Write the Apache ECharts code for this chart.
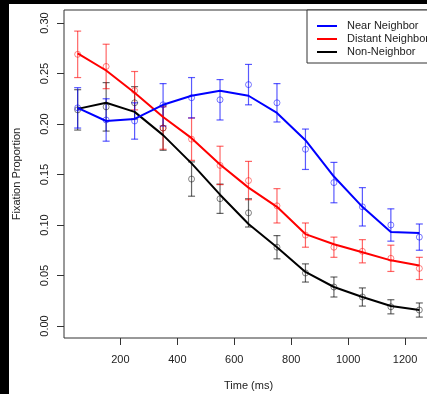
<!DOCTYPE html>
<html><head><meta charset="utf-8">
<script src="https://cdn.jsdelivr.net/npm/echarts@6/dist/echarts.min.js"></script>
<style>html,body{margin:0;padding:0;background:#fff}#c{width:427px;height:394px}</style>
</head><body><div id="c"></div>
<script>
// ---- data ----
const times = [50, 150, 250, 350, 450, 550, 650, 750, 850, 950, 1050, 1150, 1250];
const seriesNames = ['Near Neighbor', 'Distant Neighbor', 'Non-Neighbor'];
const xTicks = [200, 400, 600, 800, 1000, 1200];
const yTicks = [0, 0.05, 0.10, 0.15, 0.20, 0.25, 0.30];

const nearMean = [0.216, 0.204, 0.203, 0.219, 0.226, 0.224, 0.239, 0.221, 0.175, 0.142, 0.118, 0.100, 0.088];
const nearSE   = [0.020, 0.021, 0.018, 0.021, 0.020, 0.020, 0.020, 0.019, 0.020, 0.020, 0.019, 0.016, 0.013];
const nearFit  = [0.216, 0.203, 0.205, 0.219, 0.228, 0.233, 0.228, 0.211, 0.184, 0.148, 0.118, 0.093, 0.092];

const distMean = [0.269, 0.257, 0.233, 0.196, 0.185, 0.159, 0.144, 0.119, 0.090, 0.078, 0.074, 0.067, 0.057];
const distSE   = [0.023, 0.022, 0.019, 0.021, 0.021, 0.019, 0.019, 0.017, 0.012, 0.010, 0.0115, 0.013, 0.011];
const distFit  = [0.270, 0.253, 0.231, 0.207, 0.186, 0.160, 0.137, 0.118, 0.091, 0.081, 0.073, 0.065, 0.060];

const nonMean = [0.214, 0.217, 0.221, 0.196, 0.1455, 0.126, 0.112, 0.078, 0.0525, 0.0386, 0.0287, 0.019, 0.0158];
const nonSE   = [0.020, 0.024, 0.016, 0.022, 0.017, 0.0145, 0.014, 0.0115, 0.009, 0.0099, 0.009, 0.007, 0.007];
const nonFit  = [0.215, 0.221, 0.212, 0.189, 0.161, 0.130, 0.101, 0.078, 0.0535, 0.0386, 0.0287, 0.0198, 0.0158];

// ---- chart ----
const FONT = "'Liberation Sans', Arial, sans-serif";
const TXT = '#222';
const groups = [
  {name: seriesNames[0], mean: nearMean, se: nearSE, fit: nearFit, line: '#0000ff', faint: 'rgba(0,0,255,0.65)'},
  {name: seriesNames[1], mean: distMean, se: distSE, fit: distFit, line: '#ff0000', faint: 'rgba(255,0,0,0.6)'},
  {name: seriesNames[2], mean: nonMean,  se: nonSE,  fit: nonFit,  line: '#000000', faint: 'rgba(0,0,0,0.6)'}
];

const series = [];
groups.slice().reverse().forEach(g => {
  series.push({
    type: 'custom',
    silent: true,
    z: 2,
    data: times.map((t, i) => [t, g.mean[i] - g.se[i], g.mean[i] + g.se[i]]),
    encode: {x: 0, y: [1, 2]},
    renderItem: function (params, api) {
      const x = api.value(0);
      const lo = api.coord([x, api.value(1)]);
      const hi = api.coord([x, api.value(2)]);
      const w = 3.5;
      const style = {stroke: g.faint, lineWidth: 1.2, fill: null};
      return {type: 'group', children: [
        {type: 'line', shape: {x1: lo[0], y1: lo[1], x2: hi[0], y2: hi[1]}, style: style},
        {type: 'line', shape: {x1: lo[0] - w, y1: lo[1], x2: lo[0] + w, y2: lo[1]}, style: style},
        {type: 'line', shape: {x1: hi[0] - w, y1: hi[1], x2: hi[0] + w, y2: hi[1]}, style: style}
      ]};
    }
  });
  series.push({
    type: 'scatter',
    silent: true,
    z: 2,
    symbol: 'circle',
    symbolSize: 6,
    itemStyle: {color: 'rgba(0,0,0,0)', borderColor: g.faint, borderWidth: 1},
    data: times.map((t, i) => [t, g.mean[i]])
  });
});
groups.slice().reverse().forEach(g => {
  series.push({
    type: 'line',
    name: g.name,
    z: 3,
    silent: true,
    showSymbol: false,
    color: g.line,
    lineStyle: {color: g.line, width: 2},
    data: times.map((t, i) => [t, g.fit[i]])
  });
});

const chart = echarts.init(document.getElementById('c'), null, {renderer: 'canvas'});
chart.setOption({
  animation: false,
  backgroundColor: '#fff',
  textStyle: {fontFamily: FONT},
  grid: {left: 64, top: 10, width: 369, height: 328, show: true, borderColor: '#333', borderWidth: 1,
    backgroundColor: 'transparent', outerBoundsMode: 'none'},
  xAxis: {
    type: 'value', min: 2, max: 1298, position: 'bottom',
    axisLine: {show: false, onZero: false}, splitLine: {show: false},
    axisTick: {show: true, inside: false, length: 7, customValues: xTicks, lineStyle: {color: '#333'}},
    axisLabel: {customValues: xTicks, fontSize: 11, color: TXT, fontFamily: FONT, margin: 16,
      formatter: v => String(v)},
    name: 'Time (ms)', nameLocation: 'middle', nameGap: 42,
    nameTextStyle: {fontSize: 11, color: TXT, fontFamily: FONT}
  },
  yAxis: {
    type: 'value', min: -0.0119, max: 0.3129, position: 'left',
    axisLine: {show: false, onZero: false}, splitLine: {show: false},
    axisTick: {show: true, inside: false, length: 7, customValues: yTicks, lineStyle: {color: '#333'}},
    axisLabel: {customValues: yTicks, rotate: 90, fontSize: 11, color: TXT, fontFamily: FONT, margin: 14,
      formatter: v => v.toFixed(2)},
    name: 'Fixation Proportion', nameLocation: 'middle', nameGap: 42, nameRotate: 90,
    nameTextStyle: {fontSize: 11, color: TXT, fontFamily: FONT}
  },
  legend: {
    data: seriesNames,
    orient: 'vertical', left: 307, top: 10,
    icon: 'rect', itemWidth: 20, itemHeight: 2, itemGap: 1,
    padding: [10, 10, 5, 10],
    borderColor: '#333', borderWidth: 1, backgroundColor: '#fff',
    selectedMode: false,
    textStyle: {fontSize: 11, color: TXT, fontFamily: FONT, lineHeight: 12, padding: [0, 0, 0, 5]}
  },
  graphic: [
    {type: 'rect', left: 0, top: 0, z: 100, shape: {width: 9, height: 394}, style: {fill: '#000'}},
    {type: 'rect', left: 0, top: 0, z: 100, shape: {width: 427, height: 4}, style: {fill: '#000'}}
  ],
  series: series
});
</script>
</body></html>
